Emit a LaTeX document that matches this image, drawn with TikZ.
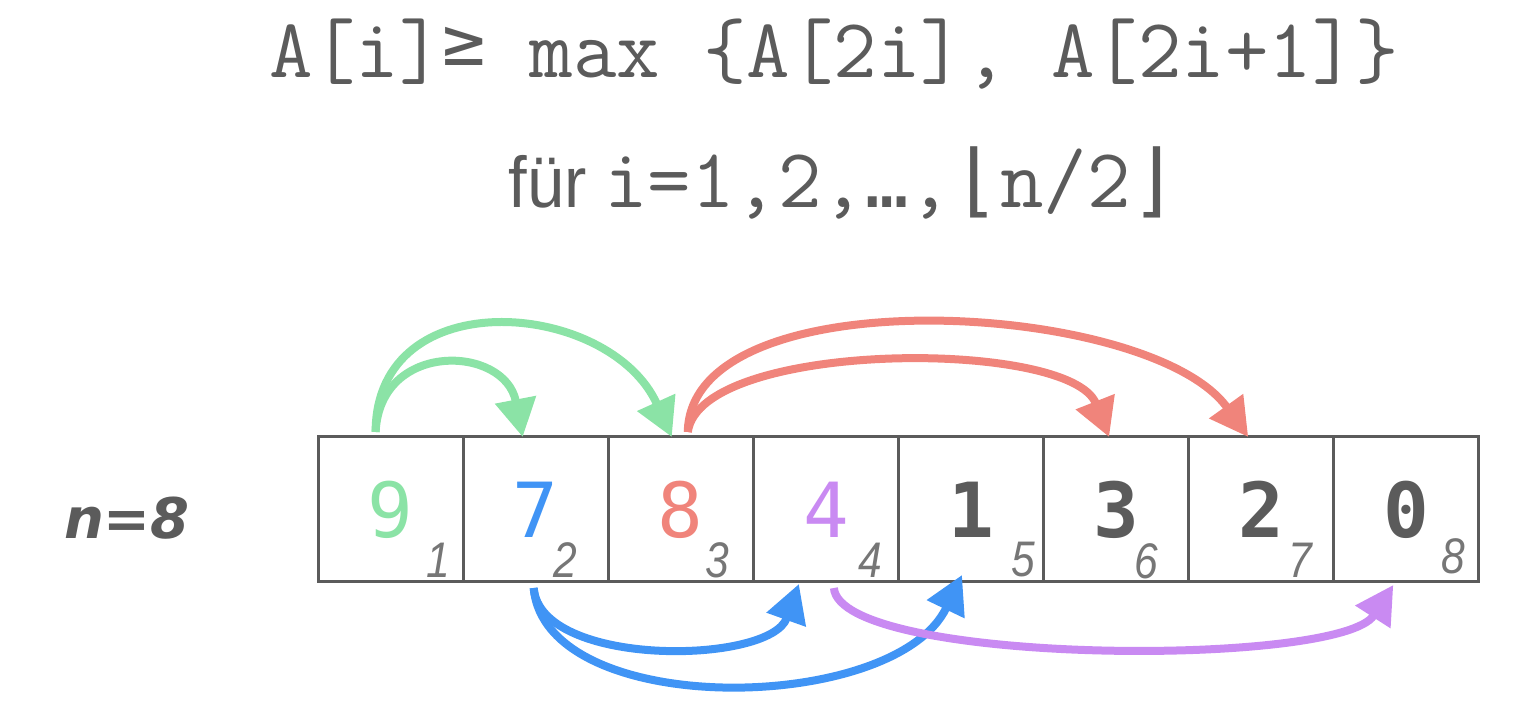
\documentclass[tikz,border=0pt]{standalone}
\usepackage{fontspec}
\usetikzlibrary{arrows.meta,calc}
\newfontfamily\monoB{DejaVu Sans Mono}
\newfontfamily\sansA{Liberation Sans}
\newfontfamily\sansN{Liberation Sans}[FakeStretch=0.93]
\newfontfamily\subfont{Liberation Sans}[FakeStretch=0.85]
\newfontfamily\handA{DejaVu Sans}
\definecolor{txt}{HTML}{5B5B5B}
\definecolor{sub}{HTML}{767676}
\definecolor{gr}{HTML}{8BE3A6}
\definecolor{bl}{HTML}{4094F5}
\definecolor{rd}{HTML}{F0847B}
\definecolor{pu}{HTML}{C98AF2}
\newcommand{\tta}{\ttfamily\fontsize{42.2}{45}\selectfont}
\newcommand{\ttb}{\monoB\fontsize{36}{40}\selectfont}
\tikzset{
  cell/.style={draw=txt, line width=1.5pt, minimum width=72.55pt, minimum height=72.5pt, inner sep=0pt, outer sep=0pt, font=\monoB\fontsize{38}{40}\selectfont},
  subidx/.style={text=sub, inner sep=0pt, font=\subfont\itshape\fontsize{25}{27}\selectfont},
  conn/.style={line width=4pt, -{Triangle[length=19pt,width=20pt]}},
}
\begin{document}
\begin{tikzpicture}[x=0.5pt,y=-0.5pt]
\useasboundingbox (0,0) rectangle (1522,726);
% formula
\node[anchor=base, text=txt, inner sep=0pt] (f1) at (834,78) {\tta A[i]{\ttb\raisebox{6pt}{≥}} max \{A[2i], A[2i+1]\}};
\node[anchor=base east, text=txt, inner sep=0pt, font=\sansN\fontsize{36}{40}\selectfont] (f2a) at (587,208) {für};
\node[anchor=base west, text=txt, inner sep=0pt] (f2b) at (604,208) {\tta i=1,2,{\ttb …},{\ttb\fontsize{40}{44}\selectfont ⌊}n/2{\ttb\fontsize{40}{44}\selectfont ⌋}};
% n=8
\node[text=txt, inner sep=0pt, font=\handA\bfseries\itshape\fontsize{28}{30}\selectfont] (n) at (127,518) {n=8};
% cells
\node[cell, text=gr] (c1) at (390.6,509.5) {9};
\node[cell, text=bl] (c2) at (535.7,509.5) {7};
\node[cell, text=rd] (c3) at (680.8,509.5) {8};
\node[cell, text=pu] (c4) at (825.9,509.5) {4};
\node[cell, text=txt] (c5) at (971.0,509.5) {\bfseries 1};
\node[cell, text=txt] (c6) at (1116.1,509.5) {\bfseries 3};
\node[cell, text=txt] (c7) at (1261.2,509.5) {\bfseries 2};
\node[cell, text=txt] (c8) at (1406.3,509.5) {\bfseries 0};
% indices
\node[subidx] (s1) at (438,560) {1};
\node[subidx] (s2) at (565,560) {2};
\node[subidx] (s3) at (717,560) {3};
\node[subidx] (s4) at (870,560) {4};
\node[subidx] (s5) at (1023,560) {5};
\node[subidx] (s6) at (1146,561) {6};
\node[subidx] (s7) at (1300,560) {7};
\node[subidx] (s8) at (1453,556) {8};
% green
\draw[conn, gr] ($(c1.north)+(-15,-5)$) .. controls (380,340) and (505,345) .. ($(c2.north)+(-13,0)$);
\draw[conn, gr] ($(c1.north)+(-15,-5)$) .. controls (376,280) and (610,300) .. ($(c3.north)+(-9,0)$);
% red
\draw[conn, rd] ($(c3.north)+(7,-5)$) .. controls (700,340) and (1070,338) .. ($(c6.north)+(-7,0)$);
\draw[conn, rd] ($(c3.north)+(7,-5)$) .. controls (690,275) and (1150,300) .. ($(c7.north)+(-13,0)$);
% blue
\draw[conn, bl] ($(c2.south)+(-2,6)$) .. controls (540,668) and (770,665) .. ($(c4.south)+(-27,2)$);
\draw[conn, bl] ($(c2.south)+(-2,6)$) .. controls (545,720) and (895,715) .. ($(c5.south)+(-9,-7)$);
% purple
\draw[conn, pu] ($(c4.south)+(8,6)$) .. controls (840,665) and (1340,668) .. ($(c8.south)+(-13,3)$);
\end{tikzpicture}
\end{document}
